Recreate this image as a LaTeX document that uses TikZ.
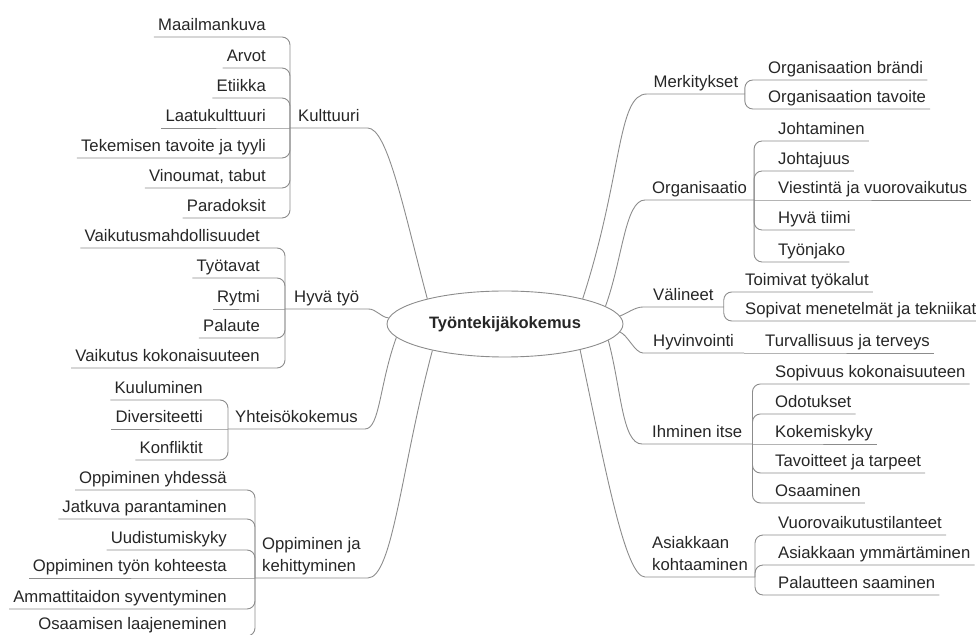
\documentclass[tikz,border=0pt]{standalone}
\usepackage{fontspec}
\setmainfont{Liberation Sans}
\usepackage{tikz}
\usetikzlibrary{shapes.geometric}

\begin{document}
\begin{tikzpicture}[
  x=1pt, y=1pt,
  link/.style={draw=black!45, line width=0.9pt},
  twig/.style={link, rounded corners=8pt},
  core/.style={draw=black!45, line width=0.9pt, ellipse, fill=white,
               minimum width=236pt, minimum height=66pt, inner sep=0pt,
               font=\fontsize{16.5}{20}\selectfont\bfseries, text=black!85},
  cat/.style={font=\fontsize{16.7}{22}\selectfont, text=black!85,
              text depth=4pt, inner xsep=8pt, inner ysep=2.5pt, anchor=south west},
  leafL/.style={cat, inner xsep=4pt, anchor=south east},
  leafR/.style={cat, inner xsep=4pt, anchor=south west}
]
  \useasboundingbox (0,0) rectangle (976,634);
  \clip (0,0) rectangle (976,634);

  \node[core] (core) at (505,310) {Työntekijäkokemus};

  \node[cat] (kult) at (290,506) {Kulttuuri};
  \node[leafL] (kult1) at (270,597) {Maailmankuva};
  \node[leafL] (kult2) at (270,566) {Arvot};
  \node[leafL] (kult3) at (270,536) {Etiikka};
  \node[leafL] (kult4) at (270,506) {Laatukulttuuri};
  \node[leafL] (kult5) at (270,476) {Tekemisen tavoite ja tyyli};
  \node[leafL] (kult6) at (270,446) {Vinoumat, tabut};
  \node[leafL] (kult7) at (270,416) {Paradoksit};

  \node[cat, inner xsep=9pt] (hyva) at (285,325) {Hyvä työ};
  \node[leafL] (hyva1) at (264,386) {Vaikutusmahdollisuudet};
  \node[leafL] (hyva2) at (264,356) {Työtavat};
  \node[leafL] (hyva3) at (264,325) {Rytmi};
  \node[leafL] (hyva4) at (264,296) {Palaute};
  \node[leafL] (hyva5) at (264,266) {Vaikutus kokonaisuuteen};

  \node[cat, inner xsep=7pt] (yhte) at (228,205) {Yhteisökokemus};
  \node[leafL] (yhte1) at (207,234) {Kuuluminen};
  \node[leafL] (yhte2) at (207,205) {Diversiteetti};
  \node[leafL] (yhte3) at (207,174) {Konfliktit};

  \node[cat, inner xsep=7pt, align=left] (oppi) at (255,56) {Oppiminen ja\\kehittyminen};
  \node[leafL] (oppi1) at (231,144) {Oppiminen yhdessä};
  \node[leafL] (oppi2) at (231,115) {Jatkuva parantaminen};
  \node[leafL] (oppi3) at (231,84) {Uudistumiskyky};
  \node[leafL] (oppi4) at (231,56) {Oppiminen työn kohteesta};
  \node[leafL] (oppi5) at (231,25) {Ammattitaidon syventyminen};
  \node[leafL] (oppi6) at (231,-2) {Osaamisen laajeneminen};

  \node[cat, inner xsep=6.5pt] (merk) at (647,540) {Merkitykset};
  \node[leafR] (merk1) at (764,554) {Organisaation brändi};
  \node[leafR] (merk2) at (764,525) {Organisaation tavoite};

  \node[cat, inner xsep=7pt] (orga) at (645,434) {Organisaatio};
  \node[leafR] (orga1) at (774,493) {Johtaminen};
  \node[leafR] (orga2) at (774,463) {Johtajuus};
  \node[leafR] (orga3) at (774,434) {Viestintä ja vuorovaikutus};
  \node[leafR] (orga4) at (774,404) {Hyvä tiimi};
  \node[leafR] (orga5) at (774,372) {Työnjako};

  \node[cat, inner xsep=10pt] (vali) at (643,327) {Välineet};
  \node[leafR] (vali1) at (741,342) {Toimivat työkalut};
  \node[leafR] (vali2) at (741,313) {Sopivat menetelmät ja tekniikat};

  \node[cat, inner xsep=10pt] (hyvi) at (643,281) {Hyvinvointi};
  \node[leafR] (hyvi1) at (761,281) {Turvallisuus ja terveys};

  \node[cat, inner xsep=10pt] (ihmi) at (642,190) {Ihminen itse};
  \node[leafR] (ihmi1) at (771,250) {Sopivuus kokonaisuuteen};
  \node[leafR] (ihmi2) at (771,220) {Odotukset};
  \node[leafR] (ihmi3) at (771,190) {Kokemiskyky};
  \node[leafR] (ihmi4) at (771,161) {Tavoitteet ja tarpeet};
  \node[leafR] (ihmi5) at (771,131) {Osaaminen};

  \node[cat, inner xsep=7pt, align=left] (asia) at (645,57) {Asiakkaan\\kohtaaminen};
  \node[leafR] (asia1) at (774,99) {Vuorovaikutustilanteet};
  \node[leafR] (asia2) at (774,69) {Asiakkaan ymmärtäminen};
  \node[leafR] (asia3) at (774,39) {Palautteen saaminen};

  \draw[link] (core.162) to[out=105, in=0, out distance=90pt, in distance=20pt] (kult.south east) -- (kult.south west);
  \draw[link] (core.177) to[out=175, in=0, out distance=8pt, in distance=8pt] (hyva.south east) -- (hyva.south west);
  \draw[link] (core.187) to[out=250, in=0, out distance=50pt, in distance=15pt] (yhte.south east) -- (yhte.south west);
  \draw[link] (core.200) to[out=255, in=0, out distance=120pt, in distance=25pt] (oppi.south east) -- (oppi.south west);
  \draw[link] (core.18) to[out=72, in=180, out distance=130pt, in distance=30pt] (merk.south west) -- (merk.south east);
  \draw[link] (core.10) to[out=70, in=180, out distance=50pt, in distance=20pt] (orga.south west) -- (orga.south east);
  \draw[link] (core.4) to[out=20, in=180, out distance=8pt, in distance=8pt] (vali.south west) -- (vali.south east);
  \draw[link] (core.356) to[out=340, in=180, out distance=8pt, in distance=8pt] (hyvi.south west) -- (hyvi.south east);
  \draw[link] (core.351) to[out=285, in=180, out distance=50pt, in distance=20pt] (ihmi.south west) -- (ihmi.south east);
  \draw[link] (core.341) to[out=282, in=180, out distance=120pt, in distance=20pt] (asia.south west) -- (asia.south east);

  \draw[twig] (kult.south west) |- (kult1.south east) -- (kult1.south west);
  \draw[twig] (kult.south west) |- (kult2.south east) -- (kult2.south west);
  \draw[twig] (kult.south west) |- (kult3.south east) -- (kult3.south west);
  \draw[link] (kult.south west) -- (kult4.south east) -- (kult4.south west);
  \draw[twig] (kult.south west) |- (kult5.south east) -- (kult5.south west);
  \draw[twig] (kult.south west) |- (kult6.south east) -- (kult6.south west);
  \draw[twig] (kult.south west) |- (kult7.south east) -- (kult7.south west);

  \draw[twig] (hyva.south west) |- (hyva1.south east) -- (hyva1.south west);
  \draw[twig] (hyva.south west) |- (hyva2.south east) -- (hyva2.south west);
  \draw[link] (hyva.south west) -- (hyva3.south east) -- (hyva3.south west);
  \draw[twig] (hyva.south west) |- (hyva4.south east) -- (hyva4.south west);
  \draw[twig] (hyva.south west) |- (hyva5.south east) -- (hyva5.south west);

  \draw[twig] (yhte.south west) |- (yhte1.south east) -- (yhte1.south west);
  \draw[link] (yhte.south west) -- (yhte2.south east) -- (yhte2.south west);
  \draw[twig] (yhte.south west) |- (yhte3.south east) -- (yhte3.south west);

  \draw[twig] (oppi.south west) |- (oppi1.south east) -- (oppi1.south west);
  \draw[twig] (oppi.south west) |- (oppi2.south east) -- (oppi2.south west);
  \draw[twig] (oppi.south west) |- (oppi3.south east) -- (oppi3.south west);
  \draw[link] (oppi.south west) -- (oppi4.south east) -- (oppi4.south west);
  \draw[twig] (oppi.south west) |- (oppi5.south east) -- (oppi5.south west);
  \draw[twig] (oppi.south west) |- (oppi6.south east) -- (oppi6.south west);

  \draw[twig] (merk.south east) |- (merk1.south west) -- (merk1.south east);
  \draw[twig] (merk.south east) |- (merk2.south west) -- (merk2.south east);

  \draw[twig] (orga.south east) |- (orga1.south west) -- (orga1.south east);
  \draw[twig] (orga.south east) |- (orga2.south west) -- (orga2.south east);
  \draw[link] (orga.south east) -- (orga3.south west) -- (orga3.south east);
  \draw[twig] (orga.south east) |- (orga4.south west) -- (orga4.south east);
  \draw[twig] (orga.south east) |- (orga5.south west) -- (orga5.south east);

  \draw[twig] (vali.south east) |- (vali1.south west) -- (vali1.south east);
  \draw[twig] (vali.south east) |- (vali2.south west) -- (vali2.south east);

  \draw[link] (hyvi.south east) -- (hyvi1.south west) -- (hyvi1.south east);

  \draw[twig] (ihmi.south east) |- (ihmi1.south west) -- (ihmi1.south east);
  \draw[twig] (ihmi.south east) |- (ihmi2.south west) -- (ihmi2.south east);
  \draw[link] (ihmi.south east) -- (ihmi3.south west) -- (ihmi3.south east);
  \draw[twig] (ihmi.south east) |- (ihmi4.south west) -- (ihmi4.south east);
  \draw[twig] (ihmi.south east) |- (ihmi5.south west) -- (ihmi5.south east);

  \draw[twig] (asia.south east) |- (asia1.south west) -- (asia1.south east);
  \draw[twig] (asia.south east) |- (asia2.south west) -- (asia2.south east);
  \draw[twig] (asia.south east) |- (asia3.south west) -- (asia3.south east);
\end{tikzpicture}
\end{document}
